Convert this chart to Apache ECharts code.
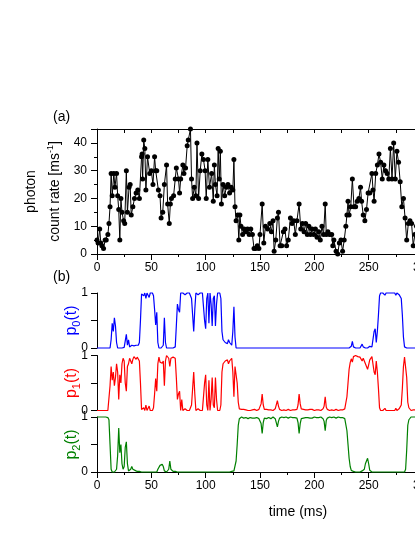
<!DOCTYPE html>
<html>
<head>
<meta charset="utf-8">
<title>photon count rate and state probabilities</title>
<script src="https://cdn.jsdelivr.net/npm/echarts@6/dist/echarts.min.js"></script>
<style>
  html, body { margin: 0; padding: 0; background: #fff; }
  #chart { width: 415px; height: 537px; }
</style>
</head>
<body>
<div id="chart"></div>
<script>
// ---- (a) photon count rate ----
const rateTime = [
  0, 1, 2.5, 3.5, 4.5, 6, 7.5, 8.5, 10, 11,
  12, 13, 14, 15.5, 16.5, 18, 19, 20, 21, 22,
  23, 24.5, 25.5, 27, 28, 29.5, 30.5, 31.5, 33, 34.5,
  36, 37.5, 39, 41, 41.5, 42, 43, 44, 45, 46.5,
  48.5, 50, 51.5, 53, 54, 55, 56.5, 58, 59, 60.5,
  62, 64, 65, 66.5, 67.5, 68.5, 70.5, 72, 73, 75,
  76, 77, 79, 80, 81.5, 83, 84, 86, 87, 88,
  89.5, 91, 92, 93.5, 95, 96.5, 98, 99.5, 100.5, 102,
  103.5, 105.5, 107, 108, 109, 110.5, 111.5, 112.5, 113.5, 114.5,
  116, 117.5, 119, 120.5, 122, 123.5, 125, 126, 127, 128,
  129.5, 130.5, 131.5, 132.5, 134, 135.5, 137, 138.5, 140, 141.5,
  143, 144.5, 146, 147.5, 149, 150, 152, 153.5, 155, 157,
  159, 160.5, 162, 163, 164.5, 166, 167, 168.5, 170, 171.5,
  173, 174.5, 176, 178, 179.5, 181, 182.5, 184, 186, 187.5,
  189, 190.5, 192, 193.5, 195, 196.5, 198, 199.5, 201, 202.5,
  204, 205.5, 207, 208.5, 210, 211, 212.5, 214, 216, 217,
  218, 220, 221.5, 223, 224.5, 226, 227.5, 229, 230, 231,
  232, 233.5, 235, 236.5, 238, 239.5, 241, 242.5, 243.5, 245,
  246.5, 248, 249.5, 251, 253, 254, 255, 256.5, 258, 259.5,
  261, 262.5, 264, 265.5, 267, 268.5, 270, 271.5, 273, 274.5,
  276, 277.5, 279, 280.5, 282, 283.5, 285, 286.5, 288, 289.5,
  291, 292.5, 294, 296, 298
];
const rateValue = [
  5, 4, 9, 4, 3, 2, 5, 5, 7, 11,
  17, 29, 21, 29, 24, 29, 21, 16, 5, 20,
  15, 12, 11, 30, 15, 24, 25, 14, 17, 20,
  22, 23, 20, 35, 36, 27, 41, 38, 23, 35,
  29, 30, 25, 35, 30, 30, 23, 21, 13, 15,
  25, 32, 18, 11, 18, 20, 21, 27, 31, 27,
  22, 27, 32, 29, 31, 39, 41, 45, 27, 20,
  24, 21, 40, 20, 30, 36, 34, 30, 20, 34,
  24, 29, 19, 32, 25, 21, 38, 27, 37, 18,
  25, 21, 24, 25, 22, 24, 23, 34, 17, 12,
  14, 5, 14, 10, 7, 9, 8, 9, 7, 9,
  7, 2, 2, 3, 2, 7, 18, 4, 10, 9,
  11, 8, 12, 1, 5, 13, 15, 3, 3, 8,
  9, 3, 5, 13, 11, 12, 7, 12, 18, 9,
  11, 8, 11, 7, 10, 7, 9, 7, 9, 6,
  8, 5, 10, 7, 18, 7, 8, 7, 7, 3,
  5, 1, 0, 4, 5, 1, 5, 10, 14, 19,
  14, 17, 27, 17, 17, 19, 20, 24, 19, 14,
  12, 16, 22, 22, 29, 23, 19, 29, 32, 36,
  33, 27, 32, 30, 29, 27, 38, 27, 40, 27,
  37, 33, 26, 17, 20, 13, 5, 11, 12, 11,
  3, 7, 10, 6, 8
];

// ---- (b) state probabilities, one sample per ms starting at 0 ----
const P_STEP = 1;
const p0 = [
  0, 0, 0, 0, 0, 0, 0, 0, 0, 0,
  0, 0, 0, .15, .45, .3, .55, .4, .1, 0,
  0, 0, 0, 0, 0, .01, .02, .25, .05, .15,
  .02, .03, .05, .02, .04, .02, .05, .03, .05, .1,
  .5, .98, 1, .95, 1, .9, 1, .97, .92, 1,
  .97, 1, .95, .7, .42, .65, .1, 0, 0, 0,
  0, .05, .55, .1, 0, 0, 0, 0, 0, 0,
  0, 0, .02, .4, .8, .7, .65, 1, .98, 1,
  1, .97, 1, 1, .98, 1, 1, .9, .6, .3,
  .7, 1, 1, .97, 1, 1, .98, 1, 1, .5,
  .35, .9, 1, .45, 1, .8, .4, .9, .95, .4,
  .8, 1, .98, 1, .9, .3, .15, .18, .1, .12,
  .08, .15, .1, .12, .05, .3, .75, .2, 0, 0,
  0, 0, 0, 0, 0, 0, 0, 0, 0, 0,
  0, 0, 0, 0, 0, 0, 0, 0, 0, 0,
  0, 0, 0, 0, 0, 0, 0, 0, 0, 0,
  0, 0, 0, 0, 0, 0, 0, 0, 0, 0,
  0, 0, 0, 0, 0, 0, 0, 0, 0, 0,
  0, 0, 0, 0, 0, 0, 0, 0, 0, 0,
  0, 0, 0, 0, 0, 0, 0, 0, 0, 0,
  0, 0, 0, 0, 0, 0, 0, 0, 0, 0,
  0, 0, 0, 0, 0, 0, 0, 0, 0, 0,
  0, 0, 0, 0, 0, 0, 0, 0, 0, 0,
  0, 0, 0, 0, .03, .12, .02, 0, 0, 0,
  0, 0, 0, .03, .07, .02, 0, 0, 0, 0,
  .02, .03, .05, .02, .05, .3, .35, .1, .3, .6,
  .95, 1, .97, 1, .98, .96, 1, .97, 1, .98,
  1, .97, 1, .98, 1, .96, 1, 1, .97, .97,
  .9, .6, .2, .02, 0, 0, 0, 0, 0, 0,
  0, 0, 0, 0, 0, 0, 0, 0, 0, 0
];
const p1 = [
  0, 0, 0, 0, 0, 0, 0, 0, 0, 0,
  0, 0, .45, .8, .55, .7, .45, .6, .85, .7,
  .2, .65, .5, .85, .95, .9, .5, .35, .8, .85,
  .95, .97, .85, .93, .98, .95, .93, .97, .95, .9,
  .5, .02, 0, .05, 0, .1, 0, .03, .08, 0,
  .03, 0, .05, .3, .58, .35, .85, .97, .88, .85,
  .86, .9, .45, .9, 1, .97, .95, .8, .95, .98,
  .97, .98, .95, .6, .2, .3, .35, 0, .2, 0,
  0, .03, 0, 0, .02, 0, 0, .1, .4, .7,
  .3, 0, 0, .03, 0, 0, .02, 0, 0, .5,
  .65, .1, 0, .55, 0, .2, .6, .1, .05, .6,
  .2, 0, .02, 0, .1, .7, .85, .82, .9, .88,
  .92, .85, .9, .88, .95, .7, .25, .8, .8, .5,
  .15, .03, 0, .02, .01, .02, 0, .01, .02, 0,
  .01, 0, .02, .01, 0, .02, .01, 0, .01, .02,
  .03, .12, .3, .1, .02, .01, .02, 0, .01, .02,
  .01, .02, 0, .01, .03, .06, .18, .08, .02, .01,
  0, .02, .01, .02, 0, .01, .02, .01, 0, .02,
  .01, .02, .01, .03, .02, .1, .3, .12, .03, .01,
  .02, 0, .01, .02, .01, 0, .02, .01, .02, .01,
  0, .02, .01, .02, .01, .02, 0, .01, .03, .08,
  .25, .06, .02, .01, 0, .02, .01, .02, 0, .01,
  .02, .01, 0, .02, .01, .02, .01, .02, .03, .05,
  .25, .5, .75, .87, .94, .88, .98, .97, 1, .97,
  .98, .95, .97, .94, .9, .95, .92, .85, .8, .75,
  .83, .92, .9, .98, .95, .7, .65, .9, .7, .4,
  .05, 0, .03, 0, .02, .04, 0, .03, 0, .02,
  0, .03, 0, .02, 0, .04, 0, 0, .03, .03,
  .1, .4, .8, .97, .95, .6, .15, .05, .02, 0,
  0, .01, 0, .01, 0, 0, .01, 0, 0, 0
];
const p2 = [
  1, 1, 1, 1, 1, 1, 1, 1, 1, 1,
  .99, .95, .5, .05, 0, 0, 0, 0, .05, .3,
  .8, .35, .5, .15, .05, .1, .45, .55, .15, .02,
  .03, .05, .1, .05, .02, .03, .02, .01, .02, .01,
  0, 0, .01, 0, 0, 0, .01, 0, 0, 0,
  0, 0, 0, 0, 0, 0, .05, .03, .12, .15,
  .14, .1, .02, .01, 0, .01, .05, .2, .05, .02,
  .01, 0, .01, 0, 0, 0, 0, 0, 0, 0,
  0, 0, 0, 0, 0, 0, 0, 0, 0, 0,
  0, 0, 0, 0, 0, 0, 0, 0, 0, 0,
  0, 0, 0, 0, 0, 0, 0, 0, 0, 0,
  0, 0, 0, 0, 0, 0, 0, 0, 0, 0,
  0, 0, 0, 0, .01, .01, .02, .02, .2, .5,
  .85, .97, .98, 1, .99, .98, .97, .99, .98, .97,
  .98, .99, .97, .98, 1, .98, .98, .99, .98, .97,
  .96, .88, .7, .9, .98, .99, .97, .98, .99, .98,
  .97, .98, 1, .99, .97, .94, .82, .92, .98, .99,
  1, .98, .99, .98, 1, .99, .98, .99, 1, .98,
  .99, .98, .99, .97, .98, .9, .7, .88, .97, .99,
  .98, 1, .99, .98, .99, 1, .98, .99, .98, .99,
  1, .98, .99, .98, .99, .98, 1, .99, .97, .92,
  .75, .94, .98, .99, 1, .98, .99, .98, 1, .99,
  .98, .99, 1, .98, .99, .98, .99, .98, .97, .95,
  .75, .5, .25, .1, .03, 0, .01, 0, 0, 0,
  0, .01, 0, 0, .02, .01, .05, .15, .2, .25,
  .15, .03, .01, 0, 0, 0, 0, 0, 0, 0,
  0, 0, 0, 0, 0, 0, 0, 0, 0, 0,
  0, 0, 0, 0, 0, 0, 0, 0, 0, 0,
  0, 0, 0, 0, .05, .4, .85, .95, .98, 1,
  1, 1, .99, 1, 1, 1, 1, 1, 1, 1
];

const FONT = '"Liberation Sans", Arial, Helvetica, sans-serif';
const BLUE = '#0000ff';
const RED = '#ff0000';
const GREEN = '#008000';

// plot box left edge and width (right edge runs past the page, like the source)
const LEFT = 97;
const WIDTH = 326;

function pSeries (values) {
    return values.map((v, i) => [i * P_STEP, v]);
}

// bottom time axis with labels
function timeAxis (gridIndex) {
    return {
        gridIndex: gridIndex,
        type: 'value',
        min: 0,
        max: 300,
        interval: 50,
        axisLine: { onZero: false, lineStyle: { color: '#000', width: 1 } },
        axisTick: { inside: false, length: 6, lineStyle: { color: '#000' } },
        minorTick: { show: true, splitNumber: 2, length: 3, lineStyle: { color: '#000' } },
        axisLabel: { color: '#000', fontSize: 12, fontFamily: FONT, margin: 8, hideOverlap: false },
        splitLine: { show: false }
    }
}

function hiddenTimeAxis (gridIndex) {
    return { gridIndex: gridIndex, type: 'value', min: 0, max: 300, show: false }
}

// p_i(t) axis, labels only at 0 and 1
function probAxis (gridIndex, name, color) {
    return {
        gridIndex: gridIndex,
        type: 'value',
        min: 0,
        max: 1,
        interval: 0.5,
        name: name,
        nameLocation: 'middle',
        nameGap: 16,
        nameMoveOverlap: false,
        nameTextStyle: {
            color: color,
            fontFamily: FONT,
            rich: {
                m: { fontSize: 16, fontFamily: FONT, color: color, lineHeight: 18 },
                s: { fontSize: 11, fontFamily: FONT, color: color, lineHeight: 11, padding: [9, 0, 0, 0] }
            }
        },
        axisLine: { onZero: false, lineStyle: { color: '#000', width: 1 } },
        axisTick: { inside: false, length: 6, lineStyle: { color: '#000' } },
        axisLabel: {
            color: '#000', fontSize: 12, fontFamily: FONT, margin: 9,
            formatter: v => (v === 0 || v === 1) ? String(v) : ''
        },
        splitLine: { show: false }
    }
}

const chart = echarts.init(document.getElementById('chart'), null, { renderer: 'canvas' });

const gridBase = { left: LEFT, width: WIDTH, outerBoundsMode: 'none', containLabel: false };

chart.setOption({
    animation: false,
    backgroundColor: '#fff',
    textStyle: { fontFamily: FONT },
    grid: [
        Object.assign({ top: 129, height: 125 }, gridBase),
        Object.assign({ top: 293, height: 55 }, gridBase),
        Object.assign({ top: 355.5, height: 55 }, gridBase),
        Object.assign({ top: 417, height: 55 }, gridBase)
    ],
    xAxis: [
        timeAxis(0),
        {
            // mirrored top frame of panel (a)
            gridIndex: 0,
            type: 'value',
            position: 'top',
            min: 0,
            max: 300,
            interval: 25,
            axisLine: { onZero: false, lineStyle: { color: '#000', width: 1 } },
            axisTick: { inside: true, length: 4, lineStyle: { color: '#000' } },
            axisLabel: { show: false },
            splitLine: { show: false }
        },
        hiddenTimeAxis(1),
        hiddenTimeAxis(2),
        timeAxis(3)
    ],
    yAxis: [
        {
            gridIndex: 0,
            type: 'value',
            min: 0,
            max: 45,
            interval: 10,
            name: 'photon\ncount rate [ms{sup|-1}]',
            nameLocation: 'middle',
            nameGap: 30,
            nameMoveOverlap: false,
            nameTextStyle: {
                color: '#000',
                fontSize: 14,
                fontFamily: FONT,
                lineHeight: 24,
                rich: {
                    sup: { fontSize: 9, fontFamily: FONT, color: '#000', lineHeight: 9, padding: [0, 0, 9, 0] }
                }
            },
            axisLine: { onZero: false, lineStyle: { color: '#000', width: 1 } },
            axisTick: { inside: false, length: 6, lineStyle: { color: '#000' } },
            minorTick: { show: true, splitNumber: 2, length: 3, lineStyle: { color: '#000' } },
            axisLabel: { color: '#000', fontSize: 12, fontFamily: FONT, margin: 10, showMaxLabel: false },
            splitLine: { show: false }
        },
        probAxis(1, '{m|p}{s|0}{m|(t)}', BLUE),
        probAxis(2, '{m|p}{s|1}{m|(t)}', RED),
        probAxis(3, '{m|p}{s|2}{m|(t)}', GREEN)
    ],
    series: [
        {
            name: 'count rate',
            type: 'line',
            xAxisIndex: 0,
            yAxisIndex: 0,
            data: rateTime.map((t, i) => [t, rateValue[i]]),
            symbol: 'circle',
            symbolSize: 5,
            showAllSymbol: true,
            clip: false,
            itemStyle: { color: '#000' },
            lineStyle: { color: '#000', width: 1 }
        },
        {
            name: 'p0',
            type: 'line',
            xAxisIndex: 2,
            yAxisIndex: 1,
            data: pSeries(p0),
            showSymbol: false,
            clip: false,
            lineStyle: { color: BLUE, width: 1.2 }
        },
        {
            name: 'p1',
            type: 'line',
            xAxisIndex: 3,
            yAxisIndex: 2,
            data: pSeries(p1),
            showSymbol: false,
            clip: false,
            lineStyle: { color: RED, width: 1.2 }
        },
        {
            name: 'p2',
            type: 'line',
            xAxisIndex: 4,
            yAxisIndex: 3,
            data: pSeries(p2),
            showSymbol: false,
            clip: false,
            lineStyle: { color: GREEN, width: 1.2 }
        }
    ],
    graphic: [
        { type: 'text', left: 53, top: 110, style: { text: '(a)', fontSize: 14, fontFamily: FONT, fill: '#000' } },
        { type: 'text', left: 53, top: 270, style: { text: '(b)', fontSize: 14, fontFamily: FONT, fill: '#000' } },
        {
            type: 'text', x: 298, y: 512,
            style: { text: 'time (ms)', fontSize: 14, fontFamily: FONT, fill: '#000', align: 'center', verticalAlign: 'middle' }
        }
    ]
});
</script>
</body>
</html>
